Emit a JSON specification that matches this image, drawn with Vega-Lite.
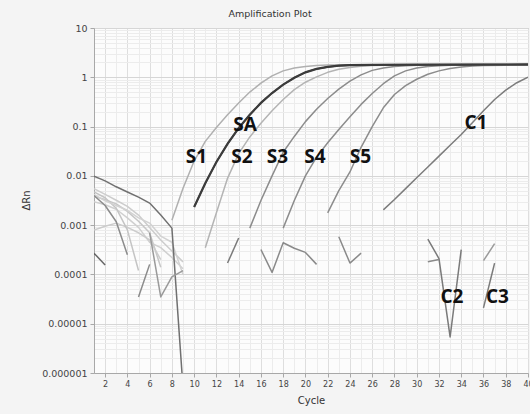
{
  "$schema": "https://vega.github.io/schema/vega-lite/v6.json",
  "width": 434,
  "height": 345,
  "autosize": {"type": "none"},
  "padding": {"left": 94, "top": 28, "right": 2, "bottom": 41},
  "background": "#f4f4f4",
  "config": {
    "view": {"fill": "#fcfcfc", "stroke": "#b4b4b4", "strokeWidth": 1},
    "axis": {
      "domainColor": "#a8a8a8",
      "labelColor": "#444444",
      "labelFont": "DejaVu Sans",
      "titleFont": "DejaVu Sans",
      "titleFontWeight": "normal",
      "titleColor": "#333333",
      "titleFontSize": 10,
      "tickSize": 4,
      "labelPadding": 3
    }
  },
  "title": {
    "text": "Amplification Plot",
    "font": "DejaVu Sans",
    "fontSize": 9.5,
    "fontWeight": "normal",
    "color": "#333333",
    "offset": 5,
    "dx": -41
  },
  "datasets": {
    "curves": [
      {"s":"L1","c":1,"v":0.0055},{"s":"L1","c":2,"v":0.0042},{"s":"L1","c":3,"v":0.0032},{"s":"L1","c":4,"v":0.0024},{"s":"L1","c":5,"v":0.0016},{"s":"L1","c":6,"v":0.0009},{"s":"L1","c":7,"v":0.0005},{"s":"L1","c":8,"v":0.0003},{"s":"L1","c":9,"v":0.00018},
      {"s":"L2","c":1,"v":0.0038},{"s":"L2","c":2,"v":0.0033},{"s":"L2","c":3,"v":0.0027},{"s":"L2","c":4,"v":0.0019},{"s":"L2","c":5,"v":0.0012},{"s":"L2","c":6,"v":0.0007},{"s":"L2","c":7,"v":0.00014},
      {"s":"L3","c":1,"v":0.003},{"s":"L3","c":2,"v":0.0026},{"s":"L3","c":3,"v":0.0021},{"s":"L3","c":4,"v":0.0014},{"s":"L3","c":5,"v":0.0009},{"s":"L3","c":6,"v":0.00045},{"s":"L3","c":7,"v":0.00035},{"s":"L3","c":8,"v":0.00022},{"s":"L3","c":9,"v":0.00013},
      {"s":"L4","c":1,"v":0.0008},{"s":"L4","c":2,"v":0.00095},{"s":"L4","c":3,"v":0.0011},{"s":"L4","c":4,"v":0.0009},{"s":"L4","c":5,"v":0.0007},{"s":"L4","c":6,"v":0.0005},{"s":"L4","c":7,"v":0.0002},
      {"s":"L5","c":1,"v":0.0047},{"s":"L5","c":2,"v":0.0036},{"s":"L5","c":3,"v":0.0022},{"s":"L5","c":4,"v":0.0008},{"s":"L5","c":5,"v":0.00012},
      {"s":"L6","c":1,"v":0.0042},{"s":"L6","c":2,"v":0.0031},{"s":"L6","c":3,"v":0.0025},{"s":"L6","c":4,"v":0.002},{"s":"L6","c":5,"v":0.0014},{"s":"L6","c":6,"v":0.0011},{"s":"L6","c":7,"v":0.0006},{"s":"L6","c":8,"v":0.00045},{"s":"L6","c":9,"v":0.0001},
      {"s":"N1","c":1,"v":0.0098},{"s":"N1","c":2,"v":0.0079},{"s":"N1","c":3,"v":0.006},{"s":"N1","c":4,"v":0.0047},{"s":"N1","c":5,"v":0.0037},{"s":"N1","c":6,"v":0.0028},{"s":"N1","c":7,"v":0.0016},{"s":"N1","c":8,"v":0.00087},{"s":"N1","c":9,"v":0.0000005},
      {"s":"N2","c":1,"v":0.004},{"s":"N2","c":2,"v":0.0025},{"s":"N2","c":3,"v":0.00117},{"s":"N2","c":4,"v":0.00025},
      {"s":"A","c":5,"v":0.000035},{"s":"A","c":6,"v":0.00016},
      {"s":"B","c":6,"v":0.0007},{"s":"B","c":7,"v":0.000035},{"s":"B","c":8,"v":0.000089},{"s":"B","c":9,"v":0.00012},
      {"s":"Cs","c":1,"v":0.00027},{"s":"Cs","c":2,"v":0.000155},
      {"s":"M1","c":13,"v":0.00017},{"s":"M1","c":14,"v":0.00055},
      {"s":"M2","c":16,"v":0.00032},{"s":"M2","c":17,"v":0.00011},{"s":"M2","c":18,"v":0.00044},{"s":"M2","c":19,"v":0.00034},{"s":"M2","c":20,"v":0.00028},{"s":"M2","c":21,"v":0.00016},
      {"s":"M3","c":23,"v":0.00058},{"s":"M3","c":24,"v":0.00017},{"s":"M3","c":25,"v":0.00027},
      {"s":"C2a","c":31,"v":0.00052},{"s":"C2a","c":32,"v":0.00021},{"s":"C2a","c":33,"v":0.0000054},{"s":"C2a","c":34,"v":0.00032},
      {"s":"C2b","c":31,"v":0.00018},{"s":"C2b","c":32,"v":0.0002},
      {"s":"C3a","c":36,"v":0.00019},{"s":"C3a","c":37,"v":0.00042},
      {"s":"C3b","c":36,"v":0.000021},{"s":"C3b","c":37,"v":0.00017},
      {"s":"S1","c":8,"v":0.00126},{"s":"S1","c":9,"v":0.00562},{"s":"S1","c":10,"v":0.02},{"s":"S1","c":11,"v":0.0501},{"s":"S1","c":12,"v":0.0955},{"s":"S1","c":13,"v":0.174},{"s":"S1","c":14,"v":0.302},{"s":"S1","c":15,"v":0.501},{"s":"S1","c":16,"v":0.759},{"s":"S1","c":17,"v":1.07},{"s":"S1","c":18,"v":1.35},{"s":"S1","c":19,"v":1.55},{"s":"S1","c":20,"v":1.66},{"s":"S1","c":21,"v":1.74},{"s":"S1","c":22,"v":1.77},{"s":"S1","c":24,"v":1.79},{"s":"S1","c":28,"v":1.8},{"s":"S1","c":32,"v":1.8},{"s":"S1","c":36,"v":1.81},{"s":"S1","c":40,"v":1.81},
      {"s":"S2","c":11,"v":0.000347},{"s":"S2","c":12,"v":0.00178},{"s":"S2","c":13,"v":0.00891},{"s":"S2","c":14,"v":0.0282},{"s":"S2","c":15,"v":0.0617},{"s":"S2","c":16,"v":0.117},{"s":"S2","c":17,"v":0.209},{"s":"S2","c":18,"v":0.355},{"s":"S2","c":19,"v":0.562},{"s":"S2","c":20,"v":0.794},{"s":"S2","c":21,"v":1.02},{"s":"S2","c":22,"v":1.26},{"s":"S2","c":23,"v":1.45},{"s":"S2","c":24,"v":1.58},{"s":"S2","c":25,"v":1.68},{"s":"S2","c":26,"v":1.73},{"s":"S2","c":28,"v":1.77},{"s":"S2","c":32,"v":1.78},{"s":"S2","c":36,"v":1.79},{"s":"S2","c":40,"v":1.79},
      {"s":"S3","c":15,"v":0.000871},{"s":"S3","c":16,"v":0.00316},{"s":"S3","c":17,"v":0.01},{"s":"S3","c":18,"v":0.0302},{"s":"S3","c":19,"v":0.0631},{"s":"S3","c":20,"v":0.126},{"s":"S3","c":21,"v":0.224},{"s":"S3","c":22,"v":0.372},{"s":"S3","c":23,"v":0.575},{"s":"S3","c":24,"v":0.832},{"s":"S3","c":25,"v":1.12},{"s":"S3","c":26,"v":1.38},{"s":"S3","c":27,"v":1.55},{"s":"S3","c":28,"v":1.66},{"s":"S3","c":29,"v":1.72},{"s":"S3","c":30,"v":1.75},{"s":"S3","c":33,"v":1.77},{"s":"S3","c":36,"v":1.78},{"s":"S3","c":40,"v":1.78},
      {"s":"S4","c":18,"v":0.000871},{"s":"S4","c":19,"v":0.00316},{"s":"S4","c":20,"v":0.01},{"s":"S4","c":21,"v":0.024},{"s":"S4","c":22,"v":0.0468},{"s":"S4","c":23,"v":0.0871},{"s":"S4","c":24,"v":0.158},{"s":"S4","c":25,"v":0.282},{"s":"S4","c":26,"v":0.468},{"s":"S4","c":27,"v":0.741},{"s":"S4","c":28,"v":1.07},{"s":"S4","c":29,"v":1.35},{"s":"S4","c":30,"v":1.55},{"s":"S4","c":31,"v":1.66},{"s":"S4","c":32,"v":1.72},{"s":"S4","c":33,"v":1.75},{"s":"S4","c":36,"v":1.77},{"s":"S4","c":40,"v":1.78},
      {"s":"S5","c":22,"v":0.00178},{"s":"S5","c":23,"v":0.00501},{"s":"S5","c":24,"v":0.012},{"s":"S5","c":25,"v":0.038},{"s":"S5","c":26,"v":0.1},{"s":"S5","c":27,"v":0.24},{"s":"S5","c":28,"v":0.447},{"s":"S5","c":29,"v":0.676},{"s":"S5","c":30,"v":0.912},{"s":"S5","c":31,"v":1.15},{"s":"S5","c":32,"v":1.35},{"s":"S5","c":33,"v":1.51},{"s":"S5","c":34,"v":1.62},{"s":"S5","c":35,"v":1.69},{"s":"S5","c":36,"v":1.73},{"s":"S5","c":38,"v":1.76},{"s":"S5","c":40,"v":1.77},
      {"s":"C1","c":27,"v":0.00204},{"s":"C1","c":28,"v":0.00331},{"s":"C1","c":29,"v":0.0055},{"s":"C1","c":30,"v":0.00912},{"s":"C1","c":31,"v":0.0151},{"s":"C1","c":32,"v":0.0251},{"s":"C1","c":33,"v":0.0417},{"s":"C1","c":34,"v":0.0692},{"s":"C1","c":35,"v":0.12},{"s":"C1","c":36,"v":0.209},{"s":"C1","c":37,"v":0.355},{"s":"C1","c":38,"v":0.55},{"s":"C1","c":39,"v":0.776},{"s":"C1","c":40,"v":1.0},
      {"s":"SA","c":10,"v":0.00234},{"s":"SA","c":11,"v":0.00708},{"s":"SA","c":12,"v":0.0191},{"s":"SA","c":13,"v":0.0447},{"s":"SA","c":14,"v":0.0933},{"s":"SA","c":15,"v":0.174},{"s":"SA","c":16,"v":0.302},{"s":"SA","c":17,"v":0.479},{"s":"SA","c":18,"v":0.708},{"s":"SA","c":19,"v":0.977},{"s":"SA","c":20,"v":1.26},{"s":"SA","c":21,"v":1.48},{"s":"SA","c":22,"v":1.62},{"s":"SA","c":23,"v":1.72},{"s":"SA","c":24,"v":1.76},{"s":"SA","c":26,"v":1.79},{"s":"SA","c":30,"v":1.8},{"s":"SA","c":35,"v":1.81},{"s":"SA","c":40,"v":1.82}
    ],
    "labels": [
      {"t":"S1","c":10.21,"v":0.0241},
      {"t":"S2","c":14.3,"v":0.0241},
      {"t":"S3","c":17.49,"v":0.0241},
      {"t":"S4","c":20.86,"v":0.0241},
      {"t":"S5","c":24.94,"v":0.0241},
      {"t":"SA","c":14.57,"v":0.11},
      {"t":"C1","c":35.32,"v":0.118},
      {"t":"C2","c":33.17,"v":0.000035},
      {"t":"C3","c":37.25,"v":0.000035}
    ]
  },
  "encoding": {
    "x": {
      "field": "c",
      "type": "quantitative",
      "scale": {"domain": [1, 40], "nice": false, "zero": false},
      "axis": {
        "title": "Cycle",
        "values": [1,2,3,4,5,6,7,8,9,10,11,12,13,14,15,16,17,18,19,20,21,22,23,24,25,26,27,28,29,30,31,32,33,34,35,36,37,38,39,40],
        "labelExpr": "datum.value % 2 == 0 ? datum.label : ''",
        "labelFontSize": 8,
        "labelFlush": false,
        "labelOverlap": false,
        "gridColor": {"condition": {"test": "datum.value % 2 == 0", "value": "#dedede"}, "value": "#ececec"},
        "tickColor": {"condition": {"test": "datum.value % 2 == 0", "value": "#a8a8a8"}, "value": "transparent"},
        "titlePadding": 7
      }
    },
    "y": {
      "field": "v",
      "type": "quantitative",
      "scale": {"type": "log", "domain": [0.000001, 10], "nice": false},
      "axis": {
        "title": "ΔRn",
        "values": [0.000001,0.000002,0.000003,0.000004,0.000005,0.000006,0.000007,0.000008,0.000009,0.00001,0.00002,0.00003,0.00004,0.00005,0.00006,0.00007,0.00008,0.00009,0.0001,0.0002,0.0003,0.0004,0.0005,0.0006,0.0007,0.0008,0.0009,0.001,0.002,0.003,0.004,0.005,0.006,0.007,0.008,0.009,0.01,0.02,0.03,0.04,0.05,0.06,0.07,0.08,0.09,0.1,0.2,0.3,0.4,0.5,0.6,0.7,0.8,0.9,1,2,3,4,5,6,7,8,9,10],
        "labelExpr": "datum.value == 10 ? '10' : datum.value == 1 ? '1' : datum.value == 0.1 ? '0.1' : datum.value == 0.01 ? '0.01' : datum.value == 0.001 ? '0.001' : datum.value == 0.0001 ? '0.0001' : datum.value == 0.00001 ? '0.00001' : datum.value == 0.000001 ? '0.000001' : ''",
        "labelFontSize": 9.5,
        "labelOverlap": false,
        "labelFlush": false,
        "gridColor": {"condition": {"test": "abs(log(datum.value)/LN10 - round(log(datum.value)/LN10)) < 0.001", "value": "#d6d6d6"}, "value": "#ececec"},
        "tickColor": {"condition": {"test": "abs(log(datum.value)/LN10 - round(log(datum.value)/LN10)) < 0.001", "value": "#a8a8a8"}, "value": "transparent"},
        "titleX": -68,
        "titleY": 172,
        "titleAlign": "center",
        "titleBaseline": "middle",
        "titleAngle": 270
      }
    }
  },
  "layer": [
    {
      "data": {"name": "curves"},
      "mark": {"type": "line", "clip": true, "strokeJoin": "round"},
      "encoding": {
        "detail": {"field": "s"},
        "color": {
          "field": "s",
          "type": "nominal",
          "legend": null,
          "scale": {
            "domain": ["L1","L2","L3","L4","L5","L6","N1","N2","A","B","Cs","M1","M2","M3","C2a","C2b","C3a","C3b","S1","S2","S3","S4","S5","C1","SA"],
            "range": ["#cdcdcd","#c6c6c6","#d0d0d0","#cccccc","#c4c4c4","#d2d2d2","#707070","#8c8c8c","#8a8a8a","#9a9a9a","#666666","#7a7a7a","#8a8a8a","#8a8a8a","#7a7a7a","#8a8a8a","#9a9a9a","#7a7a7a","#b0b0b0","#b4b4b4","#8c8c8c","#8c8c8c","#8c8c8c","#7c7c7c","#3c3c3c"]
          }
        },
        "strokeWidth": {
          "field": "s",
          "type": "nominal",
          "legend": null,
          "scale": {
            "domain": ["L1","L2","L3","L4","L5","L6","N1","N2","A","B","Cs","M1","M2","M3","C2a","C2b","C3a","C3b","S1","S2","S3","S4","S5","C1","SA"],
            "range": [1.5,1.5,1.5,1.5,1.5,1.5,1.3,2,1.3,1.3,1.5,1.3,1.3,1.3,1.3,1.3,1.3,1.3,1.4,1.4,1.3,1.3,1.3,1.3,2.2]
          }
        }
      }
    },
    {
      "data": {"name": "curves"},
      "transform": [{"filter": "datum.s == 'SA'"}],
      "mark": {"type": "line", "clip": true, "color": "#3c3c3c", "strokeWidth": 2.2},
      "encoding": {}
    },
    {
      "data": {"name": "labels"},
      "mark": {"type": "text", "font": "Open Sans", "fontWeight": "bold", "fontSize": 19, "color": "#111111", "align": "center", "baseline": "middle"},
      "encoding": {"text": {"field": "t"}}
    }
  ]
}
